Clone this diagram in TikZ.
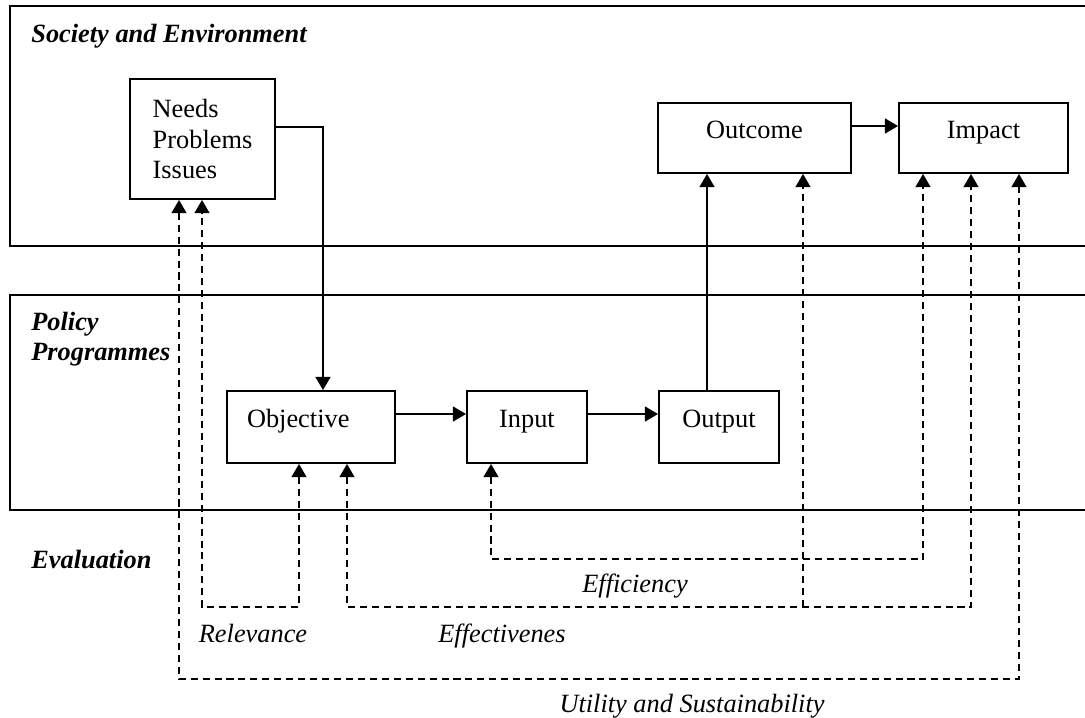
\documentclass[tikz,border=0pt]{standalone}
\usepackage{fontspec}
\setmainfont{Liberation Serif}
\usetikzlibrary{arrows.meta}
\usetikzlibrary{positioning}
\usetikzlibrary{calc}

\tikzset{
  box/.style={draw, line width=1.1pt, minimum height=1.44cm, text height=8pt, text depth=8pt, inner sep=0pt},
  flow/.style={line width=1.1pt, -{Triangle[length=7.5pt,width=8.5pt]}},
  evalflow/.style={line width=0.9pt, dash pattern=on 4pt off 2.8pt, {Triangle[length=7.5pt,width=8.5pt]}-{Triangle[length=7.5pt,width=8.5pt]}},
  evalbranch/.style={line width=0.9pt, dash pattern=on 4pt off 2.8pt, -{Triangle[length=7.5pt,width=8.5pt]}},
  layer/.style={line width=1.1pt},
  layertitle/.style={font=\bfseries\itshape, anchor=base west, inner sep=0pt},
  criterion/.style={font=\itshape, anchor=base, inner sep=0pt},
}

\begin{document}
\fontsize{15}{17.5}\selectfont
\begin{tikzpicture}[x=0.02cm, y=-0.02cm]
  \useasboundingbox (0,0) rectangle (1085,717);

  % layers
  \draw[layer] (1085,6) -- (10,6) -- (10,246) -- (1085,246);
  \draw[layer] (1085,295) -- (10,295) -- (10,510) -- (1085,510);
  \node[layertitle] (society) at (31,42) {Society and Environment};
  \node[layertitle] (policy) at (31,330) {Policy};
  \node[layertitle] (programmes) at (31,360) {Programmes};
  \node[layertitle] (evaluation) at (31,568) {Evaluation};

  % society boxes
  \node[draw, line width=1.1pt, align=left, minimum width=2.9cm, minimum height=2.4cm] (needs) at (202.5,139) {Needs\\Problems\\Issues};
  \node[box, minimum width=3.86cm, minimum height=1.4cm] (outcome) at (754.5,138) {Outcome};
  \node[box, minimum width=3.38cm, minimum height=1.4cm] (impact) at (983.5,138) {Impact};

  % programme boxes
  \node[box, text width=2.56cm, inner xsep=0.4cm, align=left] (objective) at (311,427) {Objective};
  \node[box, minimum width=2.4cm] (input) at (527,427) {Input};
  \node[box, minimum width=2.4cm] (output) at (719,427) {Output};

  % logic of the programme
  \draw[flow] ([yshift=0.24cm]needs.east) -| ([xshift=0.24cm]objective.north);
  \draw[flow] ([yshift=0.26cm]objective.east) -- ([yshift=0.26cm]objective.east -| input.west);
  \draw[flow] ([yshift=0.26cm]input.east) -- ([yshift=0.26cm]input.east -| output.west);
  \draw[flow] ([xshift=-0.24cm]output.north) -- ([xshift=-0.24cm]output.north |- outcome.south);
  \draw[flow] ([yshift=0.24cm]outcome.east) -- ([yshift=0.24cm]outcome.east -| impact.west);

  % evaluation criteria
  \coordinate (efficiency lane) at (0,559);
  \coordinate (effect lane) at (0,607);
  \coordinate (utility lane) at (0,679);

  \draw[evalflow] ([xshift=-0.24cm]objective.south) -- ([xshift=-0.24cm]objective.south |- effect lane)
    -- ([xshift=-0.01cm]needs.south |- effect lane) -- ([xshift=-0.01cm]needs.south);
  \draw[evalflow] ([xshift=0.72cm]objective.south) -- ([xshift=0.72cm]objective.south |- effect lane)
    -- ([xshift=-0.25cm]impact.south |- effect lane) -- ([xshift=-0.25cm]impact.south);
  \draw[evalbranch] ([xshift=0.97cm]outcome.south |- effect lane) -- ([xshift=0.97cm]outcome.south);
  \draw[evalflow] ([xshift=-0.72cm]input.south) -- ([xshift=-0.72cm]input.south |- efficiency lane)
    -- ([xshift=-1.21cm]impact.south |- efficiency lane) -- ([xshift=-1.21cm]impact.south);
  \draw[evalflow] ([xshift=-0.47cm]needs.south) -- ([xshift=-0.47cm]needs.south |- utility lane)
    -- ([xshift=0.71cm]impact.south |- utility lane) -- ([xshift=0.71cm]impact.south);

  \node[criterion] (relevance) at (253,642) {Relevance};
  \node[criterion] (effectiveness) at (502,642) {Effectivenes};
  \node[criterion] (efficiency) at (635,592) {Efficiency};
  \node[criterion] (utility) at (692,712) {Utility and Sustainability};

\end{tikzpicture}
\end{document}
